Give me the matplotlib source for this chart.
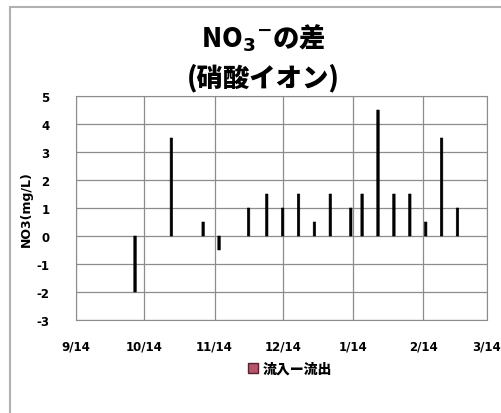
import matplotlib
matplotlib.use("Agg")
import matplotlib.pyplot as plt
from matplotlib.patches import Patch, Rectangle
import datetime as dt

plt.rcParams['font.family'] = ['Noto Sans CJK JP', 'DejaVu Sans']
plt.rcParams['axes.unicode_minus'] = False

# sample dates and inflow - outflow difference (mg/L)
dates = ["2013-10-10", "2013-10-26", "2013-11-09", "2013-11-16", "2013-11-29",
         "2013-12-07", "2013-12-14", "2013-12-21", "2013-12-28", "2014-01-04",
         "2014-01-13", "2014-01-18", "2014-01-25", "2014-02-01", "2014-02-08",
         "2014-02-15", "2014-02-22", "2014-03-01"]
diff = [-2, 3.5, 0.5, -0.5, 1, 1.5, 1, 1.5, 0.5, 1.5, 1, 1.5, 4.5, 1.5, 1.5, 0.5, 3.5, 1]
tick_dates = ["2013-09-14", "2013-10-14", "2013-11-14", "2013-12-14",
              "2014-01-14", "2014-02-14", "2014-03-14"]
tick_labels = ["9/14", "10/14", "11/14", "12/14", "1/14", "2/14", "3/14"]
series_name = "流入ー流出"

x = [dt.datetime.strptime(d, "%Y-%m-%d") for d in dates]
xt = [dt.datetime.strptime(d, "%Y-%m-%d") for d in tick_dates]

fig = plt.figure(figsize=(5.02, 4.14), dpi=100)
fig.patches.append(Rectangle((10 / 502, -0.1), 1.0, 1 - 8 / 414 + 0.1,
                             transform=fig.transFigure, fill=False,
                             edgecolor='#b0b0b0', linewidth=1.5))

ax = fig.add_axes([76 / 502, 1 - 321 / 414, 411 / 502, 224 / 414])
bars = ax.bar(x, diff, width=1.1, color='black', edgecolor='black', linewidth=0.4, zorder=3)
for b in bars:
    b.set_snap(False)

ax.set_xlim(xt[0], xt[-1])
ax.set_ylim(-3, 5)
ax.set_yticks(range(-3, 6))
ax.set_xticks(xt)
ax.set_xticklabels(tick_labels)
ax.grid(True, color='#8c8c8c', linewidth=0.9, zorder=0)
for s in ax.spines.values():
    s.set_color('#8c8c8c')
ax.tick_params(length=0, labelsize=8.5)
ax.tick_params(axis='x', pad=14)
ax.tick_params(axis='y', pad=19)
for lbl in ax.get_xticklabels() + ax.get_yticklabels():
    lbl.set_fontweight('bold')
    lbl.set_family('DejaVu Sans')

ax.set_ylabel("NO3(mg/L)", fontsize=9, fontweight='bold', family='DejaVu Sans', labelpad=3)

fig.text(0.5 + 12 / 502, 1 - 38 / 414, r"NO$_\mathbf{3}$$^\mathbf{-}$の差",
         ha='center', va='center', fontsize=19, fontweight='heavy')
fig.text(0.5 + 12 / 502, 1 - 78 / 414, "(硝酸イオン)", ha='center', va='center',
         fontsize=19, fontweight='heavy')

handle = Patch(facecolor='#b5566a', edgecolor='#5a2030', label=series_name)
fig.legend(handles=[handle], loc='center', bbox_to_anchor=(290 / 502, 1 - 370 / 414),
           frameon=False, prop={'weight': 'heavy', 'size': 10},
           handlelength=0.7, handleheight=0.7, handletextpad=0.3)

fig.savefig("out.png", dpi=100)
